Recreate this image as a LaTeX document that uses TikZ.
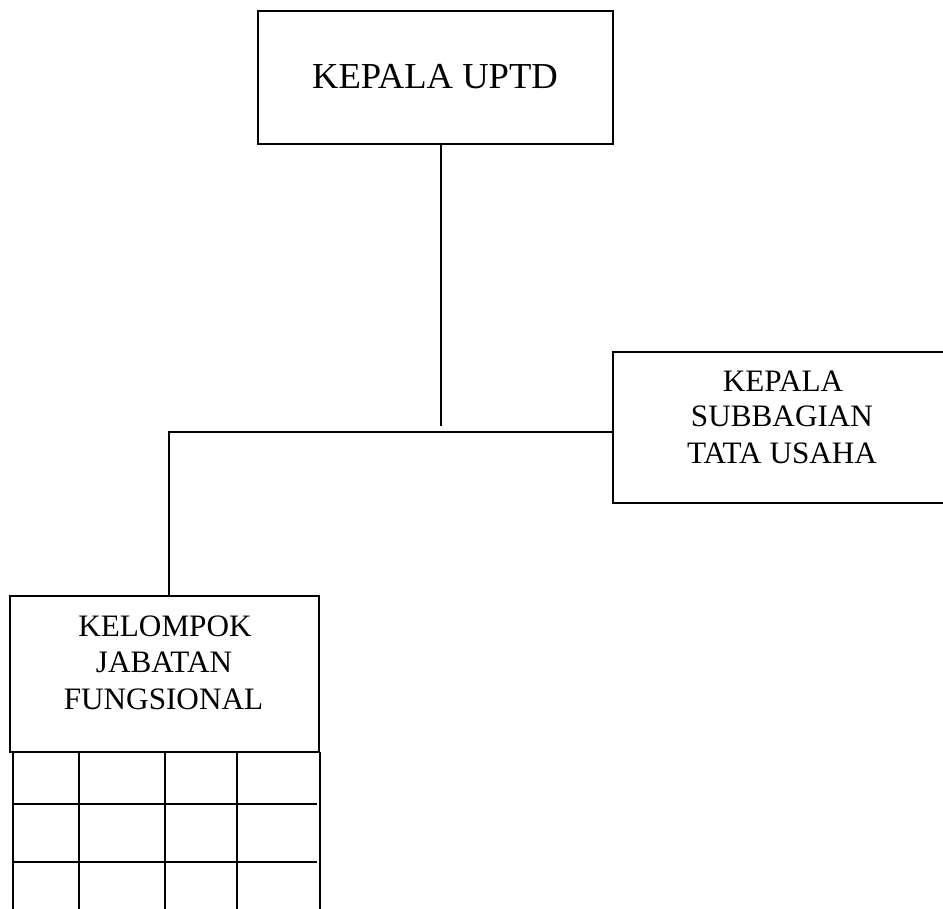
\documentclass[tikz,border=0pt]{standalone}
\usepackage{fontspec}
\setmainfont{Liberation Serif}
\begin{document}
\begin{tikzpicture}[x=1pt,y=-1pt,
  box/.style={draw=black,line width=1.6pt,rectangle,inner sep=0pt,outer sep=0pt},
  lbl/.style={anchor=base,inner sep=0pt,font=\fontsize{31.2}{36}\selectfont},
  conn/.style={draw=black,line width=1.6pt},
  gridln/.style={draw=black,line width=1.6pt}]
\useasboundingbox (0,0) rectangle (943,909);
% boxes
\node[box,minimum width=355pt,minimum height=133pt] (top) at (435.5,77.5) {};
\node[box,minimum width=350pt,minimum height=151pt] (sub) at (788,427.5) {};
\node[box,minimum width=309pt,minimum height=156pt] (kel) at (164.5,674) {};
% texts
\node[anchor=base,inner sep=0pt,font=\fontsize{36.6}{40}\selectfont] (t1) at (435,88.5) {KEPALA UPTD};
\node[lbl] (s1) at (783,391.5) {KEPALA};
\node[lbl] (s2) at (782,427) {SUBBAGIAN};
\node[lbl] (s3) at (782,463.5) {TATA USAHA};
\node[lbl] (k1) at (165,636) {KELOMPOK};
\node[lbl] (k2) at (164,672.5) {JABATAN};
\node[lbl] (k3) at (163.5,709.5) {FUNGSIONAL};
% connectors
\coordinate (j) at (441,426);
\coordinate (c) at (169,432);
\draw[conn] (top.south -| j) -- (j);
\draw[conn] (sub.west |- c) -- (c) -- (c |- kel.north);
% grid under the box
\draw[gridln] (13,752) -- (13,909);
\draw[gridln] (79,752) -- (79,909);
\draw[gridln] (165,752) -- (165,909);
\draw[gridln] (237,752) -- (237,909);
\draw[gridln] (320,752) -- (320,909);
\draw[gridln] (13,752) -- (320,752);
\draw[gridln] (13,804) -- (317,804);
\draw[gridln] (13,862) -- (317,862);
\end{tikzpicture}
\end{document}
